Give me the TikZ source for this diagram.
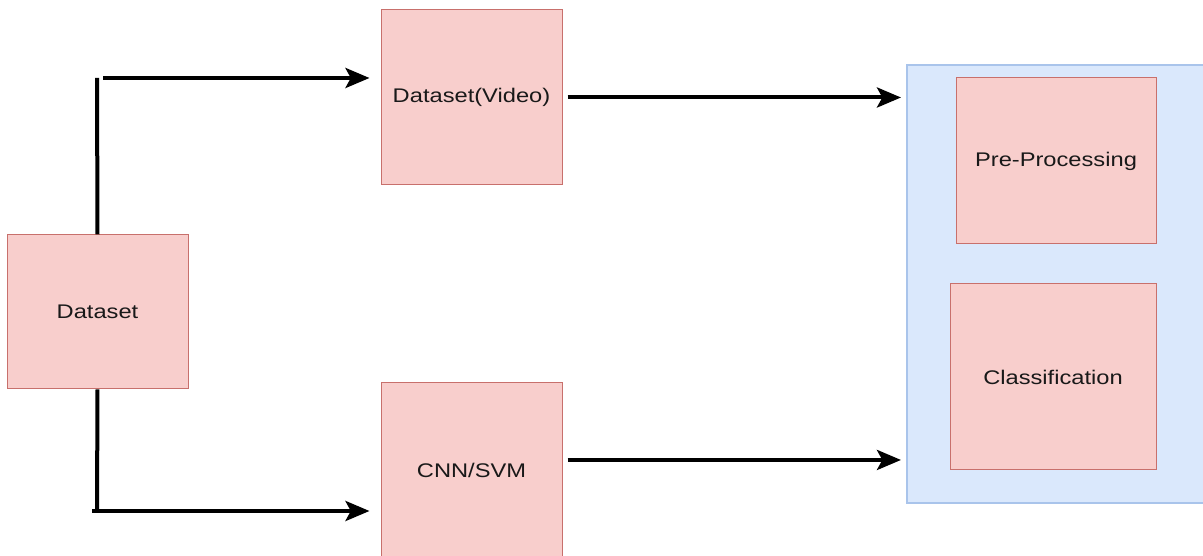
\documentclass[tikz,border=0pt]{standalone}
\usepackage{fontspec}
\setmainfont{Liberation Sans}[FakeStretch=1.2]
\usetikzlibrary{arrows.meta,positioning}
\definecolor{pinkfill}{HTML}{F8CECC}
\definecolor{pinkline}{HTML}{C8706C}
\definecolor{bluefill}{HTML}{DAE8FC}
\definecolor{blueline}{HTML}{A9C4EB}

\begin{document}
\begin{tikzpicture}[x=0.75pt,y=0.75pt,
  block/.style={draw=pinkline,fill=pinkfill,line width=0.75pt,inner sep=0pt,
    minimum width=135.75pt,text=black!90,font=\fontsize{14.8}{17}\selectfont},
  stage/.style={draw=blueline,fill=bluefill,line width=1.5pt,
    minimum width=231pt,minimum height=328.5pt},
  wire/.style={line width=3pt},
  flow/.style={wire,-{Stealth[length=18pt,width=15pt,inset=4pt]}}]

  \useasboundingbox (0,0) rectangle (1203,556);

  \node[stage] (stage) at (1061,272) {};
  \node[block,minimum width=150pt,minimum height=124.5pt] (prep) at (1056,395) {Pre-Processing};
  \node[block,minimum width=154.5pt,minimum height=139.5pt] (class) at (1053,179) {Classification};

  \node[block,minimum height=115.5pt] (data) at (97.5,244) {Dataset};
  \node[block,minimum height=131.25pt] (video) at (471.5,458.5) {Dataset(Video)};
  \node[block,minimum height=131.25pt] (cnn) at (471.5,85.5) {CNN/SVM};

  \coordinate (up) at (97,478);
  \coordinate (down) at (97,45);
  \coordinate (top) at (103,478);
  \coordinate (bot) at (92,45);

  \draw[wire] (data.north) -- (up);
  \draw[wire] (data.south) -- (down);
  \draw[flow,shorten >=8.25pt] (top) -- (top -| video.west);
  \draw[flow,shorten >=8.25pt] (bot) -- (bot -| cnn.west);
  \draw[flow,shorten <=3.75pt,shorten >=3.75pt] (video.east) -- (video.east -| stage.west);
  \draw[flow,shorten <=3.75pt,shorten >=3.75pt] ([yshift=7.9pt]cnn.east) -- ([yshift=7.9pt]cnn.east -| stage.west);

\end{tikzpicture}
\end{document}
